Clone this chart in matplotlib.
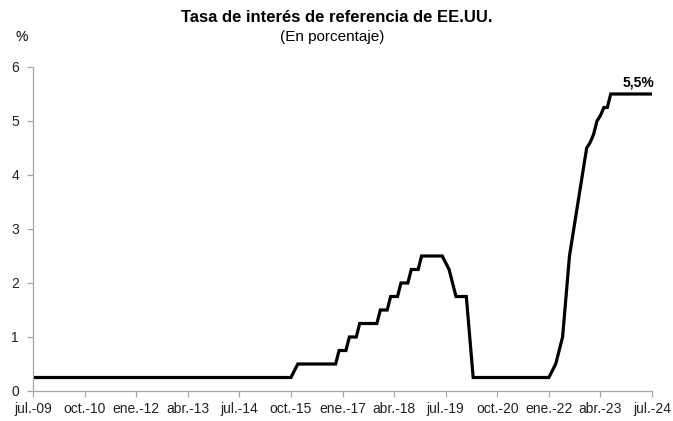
import numpy as np
import matplotlib
matplotlib.use("Agg")
import matplotlib.pyplot as plt

plt.rcParams["font.family"] = ["Liberation Sans", "DejaVu Sans"]

# monthly upper bound of the target rate, jul-2009 .. jul-2024
rate_2009 = [0.25] * 6
rate_2010_2014 = [0.25] * 60
rate_2015 = [0.25, 0.25, 0.25, 0.25, 0.25, 0.25, 0.25, 0.25, 0.25, 0.25, 0.375, 0.5]
rate_2016 = [0.5, 0.5, 0.5, 0.5, 0.5, 0.5, 0.5, 0.5, 0.5, 0.5, 0.5, 0.75]
rate_2017 = [0.75, 0.75, 1.0, 1.0, 1.0, 1.25, 1.25, 1.25, 1.25, 1.25, 1.25, 1.5]
rate_2018 = [1.5, 1.5, 1.75, 1.75, 1.75, 2.0, 2.0, 2.0, 2.25, 2.25, 2.25, 2.5]
rate_2019 = [2.5, 2.5, 2.5, 2.5, 2.5, 2.5, 2.375, 2.25, 2.0, 1.75, 1.75, 1.75]
rate_2020 = [1.75, 1.0, 0.25, 0.25, 0.25, 0.25, 0.25, 0.25, 0.25, 0.25, 0.25, 0.25]
rate_2021 = [0.25] * 12
rate_2022 = [0.25, 0.375, 0.5, 0.75, 1.0, 1.75, 2.5, 2.9, 3.3, 3.7, 4.1, 4.5]
rate_2023 = [4.6, 4.75, 5.0, 5.1, 5.25, 5.25, 5.5, 5.5, 5.5, 5.5, 5.5, 5.5]
rate_2024 = [5.5, 5.5, 5.5, 5.5, 5.5, 5.5, 5.5]

tick_labels = ["jul.-09", "oct.-10", "ene.-12", "abr.-13", "jul.-14", "oct.-15", "ene.-17",
               "abr.-18", "jul.-19", "oct.-20", "ene.-22", "abr.-23", "jul.-24"]

rates = np.array(rate_2009 + rate_2010_2014 + rate_2015 + rate_2016 + rate_2017 + rate_2018
                 + rate_2019 + rate_2020 + rate_2021 + rate_2022 + rate_2023 + rate_2024)
months = np.arange(len(rates))

fig = plt.figure(figsize=(6.73, 4.21), dpi=100)
ax = fig.add_axes([33 / 673, 1 - 391 / 421, (652 - 33) / 673, (391 - 67) / 421])

ax.plot(months, rates, color="black", lw=2.3, solid_joinstyle="miter")
ax.set_xlim(0, len(rates) - 1)
ax.set_ylim(0, 6)

ax.set_xticks(months[::15])
ax.set_xticklabels(tick_labels)
ax.set_yticks(range(7))

grey = "#a6a6a6"
for side in ["top", "right"]:
    ax.spines[side].set_visible(False)
for side in ["left", "bottom"]:
    ax.spines[side].set_color(grey)
    ax.spines[side].set_linewidth(0.9)
ax.tick_params(axis="both", colors=grey, length=4, width=0.9, labelcolor="#222222", labelsize=10)
ax.tick_params(axis="y", pad=6)
ax.tick_params(axis="x", pad=4)

ax.annotate("5,5%", xy=(months[-1], rates[-1]), xytext=(-10, 8), textcoords="offset points",
            ha="center", va="center", fontsize=10, fontweight="bold")

fig.text(0.501, 1 - 17 / 421, "Tasa de interés de referencia de EE.UU.", ha="center", va="center",
         fontsize=12, fontweight="bold")
fig.text(0.493, 1 - 37 / 421, "(En porcentaje)", ha="center", va="center", fontsize=11)
fig.text(22 / 673, 1 - 37 / 421, "%", ha="center", va="center", fontsize=10)

fig.savefig("out.png", dpi=100)
